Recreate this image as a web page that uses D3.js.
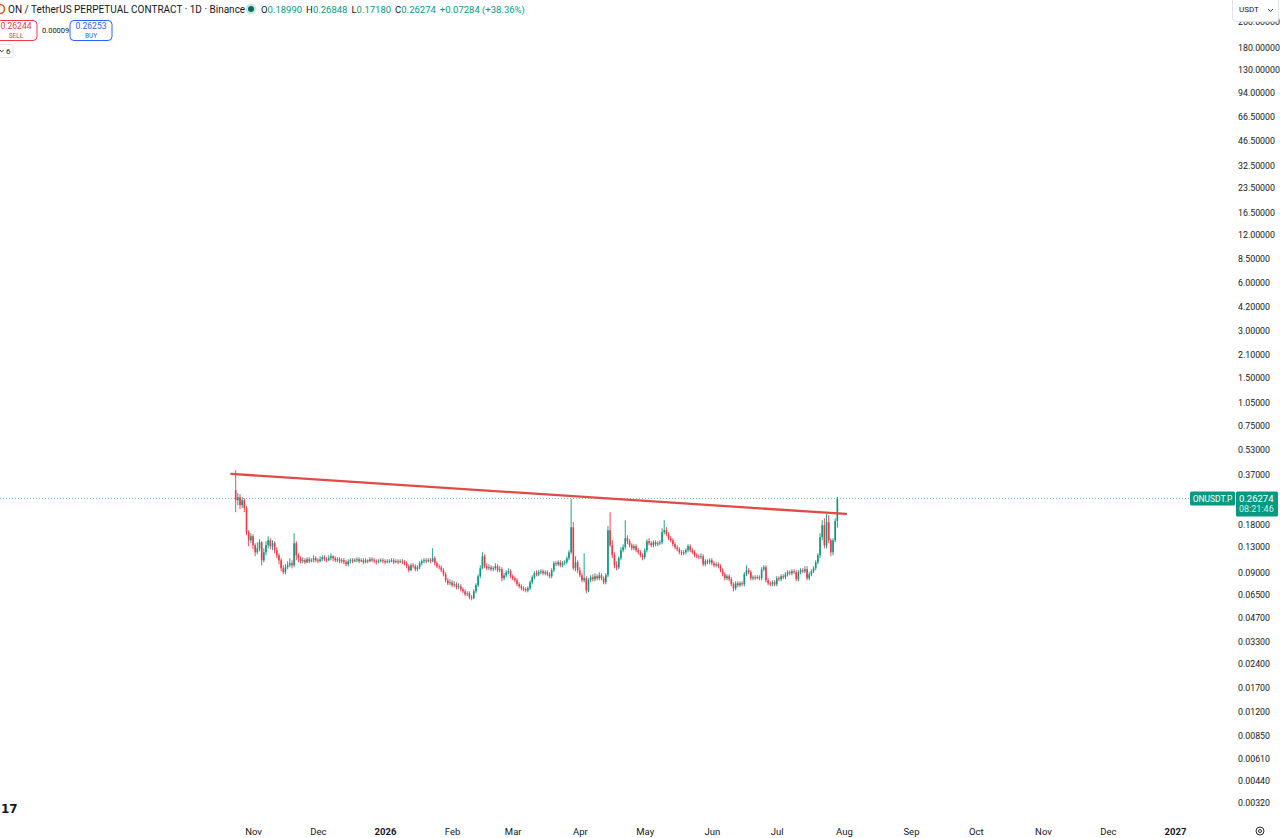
<!DOCTYPE html>
<html lang="en">
<head>
    <meta charset="UTF-8">
    <title>ONUSDT.P 1D</title>
    <script src="https://d3js.org/d3.v7.min.js"></script>
    <style>
        body {
            margin: 0;
            background: #ffffff;
            font-family: Roboto, "Noto Sans", sans-serif;
            overflow: hidden;
        }
        svg text { fill: #131722; }
    </style>
</head>
<body>
    <script>
        // daily candles, first one on 2025-10-24
        const firstDay = "2025-10-24";
        const firstOpen = 0.2964;

        const closes = [
            0.2563,0.2675,0.2384,0.2563,0.2283,0.1612,0.1435,0.1521,0.1335,0.1206,
            0.1278,0.1394,0.1074,0.1206,0.1335,0.1435,0.1316,0.1374,0.1242,0.1155,
            0.1074,0.0957,0.0903,0.0971,0.0999,0.1029,0.0999,0.1374,0.1155,0.1106,
            0.1059,0.1074,0.1044,0.1090,0.1059,0.1074,0.1106,0.1074,0.1059,0.1090,
            0.1122,0.1090,0.1074,0.1106,0.1138,0.1106,0.1074,0.1090,0.1059,0.1074,
            0.1044,0.1014,0.1059,0.1074,0.1059,0.1074,0.1090,0.1059,0.1074,0.1044,
            0.1074,0.1059,0.1090,0.1074,0.1059,0.1044,0.1059,0.1074,0.1059,0.1044,
            0.1059,0.1059,0.1074,0.1044,0.1059,0.1044,0.1059,0.1044,0.1029,0.0985,
            0.0929,0.0999,0.0985,0.0943,0.0971,0.1029,0.1059,0.1074,0.1059,0.1074,
            0.1059,0.1106,0.1029,0.0985,0.0971,0.0929,0.0877,0.0804,0.0770,0.0781,
            0.0748,0.0759,0.0727,0.0737,0.0706,0.0685,0.0656,0.0666,0.0629,0.0620,
            0.0685,0.0748,0.0852,0.0957,0.1138,0.0985,0.0957,0.0971,0.0943,0.0957,
            0.0985,0.0929,0.0943,0.0828,0.0864,0.0903,0.0916,0.0852,0.0828,0.0804,
            0.0759,0.0737,0.0716,0.0706,0.0695,0.0716,0.0781,0.0840,0.0890,0.0877,
            0.0903,0.0916,0.0890,0.0903,0.0877,0.0852,0.0929,0.1029,0.1014,0.1044,
            0.0999,0.1029,0.1044,0.1106,0.1206,0.1733,0.0957,0.1044,0.0929,0.0864,
            0.0804,0.0828,0.0695,0.0804,0.0840,0.0816,0.0852,0.0828,0.0864,0.0828,
            0.0781,0.0864,0.1659,0.1335,0.1155,0.0999,0.0971,0.1106,0.1242,0.1297,
            0.1478,0.1415,0.1335,0.1278,0.1316,0.1242,0.1206,0.1155,0.1122,0.1242,
            0.1415,0.1374,0.1335,0.1394,0.1355,0.1374,0.1394,0.1612,0.1659,0.1566,
            0.1478,0.1435,0.1355,0.1297,0.1260,0.1206,0.1189,0.1206,0.1242,0.1316,
            0.1242,0.1206,0.1155,0.1138,0.1122,0.1138,0.1014,0.1059,0.1044,0.1074,
            0.1029,0.0999,0.1014,0.0985,0.0929,0.0877,0.0828,0.0852,0.0816,0.0759,
            0.0716,0.0770,0.0748,0.0770,0.0759,0.0877,0.0929,0.0903,0.0828,0.0840,
            0.0828,0.0840,0.0828,0.0943,0.0971,0.0804,0.0770,0.0759,0.0781,0.0759,
            0.0828,0.0816,0.0852,0.0840,0.0877,0.0903,0.0890,0.0916,0.0903,0.0816,
            0.0903,0.0929,0.0916,0.0943,0.0828,0.0877,0.0916,0.0957,0.1044,0.1155,
            0.1499,0.1784,0.1335,0.1864,0.1435,0.1206,0.1435,0.1899,0.26274
        ];

        const highs = [
            0.3960,0.2837,0.2796,0.2675,0.2637,0.2350,0.1659,0.1589,0.1566,0.1374,
            0.1394,0.1456,0.1415,0.1278,0.1415,0.1521,0.1478,0.1435,0.1415,0.1297,
            0.1189,0.1106,0.0999,0.1014,0.1059,0.1106,0.1074,0.1589,0.1415,0.1189,
            0.1138,0.1122,0.1106,0.1122,0.1122,0.1106,0.1155,0.1138,0.1106,0.1138,
            0.1155,0.1155,0.1122,0.1155,0.1189,0.1155,0.1138,0.1122,0.1122,0.1106,
            0.1106,0.1074,0.1090,0.1106,0.1106,0.1106,0.1122,0.1122,0.1106,0.1106,
            0.1106,0.1090,0.1122,0.1122,0.1106,0.1090,0.1090,0.1106,0.1106,0.1090,
            0.1090,0.1090,0.1106,0.1106,0.1090,0.1090,0.1090,0.1090,0.1074,0.1059,
            0.1014,0.1029,0.1029,0.1014,0.0999,0.1059,0.1090,0.1106,0.1106,0.1106,
            0.1106,0.1278,0.1138,0.1059,0.1014,0.0999,0.0957,0.0903,0.0828,0.0816,
            0.0804,0.0792,0.0781,0.0770,0.0759,0.0727,0.0706,0.0685,0.0685,0.0647,
            0.0706,0.0770,0.0877,0.0999,0.1206,0.1172,0.1029,0.1014,0.0999,0.0985,
            0.1029,0.1014,0.0985,0.0971,0.0890,0.0929,0.0957,0.0943,0.0877,0.0852,
            0.0828,0.0781,0.0759,0.0737,0.0727,0.0737,0.0804,0.0864,0.0916,0.0929,
            0.0929,0.0943,0.0943,0.0929,0.0929,0.0903,0.0957,0.1059,0.1059,0.1074,
            0.1074,0.1059,0.1074,0.1138,0.1242,0.2599,0.1864,0.1138,0.1074,0.0971,
            0.0890,0.1189,0.0852,0.0828,0.0864,0.0877,0.0890,0.0877,0.0903,0.0890,
            0.0852,0.0890,0.1759,0.2154,0.1435,0.1206,0.1059,0.1138,0.1297,0.1355,
            0.1918,0.1543,0.1456,0.1374,0.1355,0.1355,0.1278,0.1242,0.1189,0.1278,
            0.1456,0.1478,0.1415,0.1435,0.1435,0.1415,0.1435,0.1708,0.1918,0.1733,
            0.1612,0.1521,0.1478,0.1394,0.1335,0.1297,0.1242,0.1242,0.1278,0.1355,
            0.1355,0.1278,0.1242,0.1189,0.1172,0.1189,0.1172,0.1090,0.1090,0.1106,
            0.1106,0.1059,0.1044,0.1044,0.1014,0.0957,0.0903,0.0877,0.0877,0.0840,
            0.0781,0.0792,0.0792,0.0792,0.0792,0.0903,0.0999,0.0957,0.0929,0.0864,
            0.0864,0.0864,0.0864,0.0971,0.0999,0.0999,0.0828,0.0792,0.0804,0.0804,
            0.0852,0.0852,0.0877,0.0877,0.0903,0.0929,0.0929,0.0943,0.0943,0.0929,
            0.0929,0.0957,0.0957,0.0985,0.0985,0.0903,0.0943,0.0985,0.1074,0.1189,
            0.1589,0.1918,0.1975,0.2093,0.2062,0.1478,0.1478,0.1975,0.26848
        ];

        const lows = [
            0.2154,0.2384,0.2250,0.2283,0.2154,0.1543,0.1316,0.1374,0.1260,0.1138,
            0.1172,0.1224,0.0999,0.1044,0.1155,0.1278,0.1260,0.1242,0.1189,0.1106,
            0.1014,0.0916,0.0877,0.0877,0.0943,0.0971,0.0957,0.0971,0.1074,0.1044,
            0.1029,0.1029,0.1014,0.1029,0.1029,0.1044,0.1044,0.1044,0.1029,0.1044,
            0.1059,0.1059,0.1044,0.1059,0.1074,0.1059,0.1044,0.1044,0.1029,0.1029,
            0.1014,0.0985,0.0985,0.1029,0.1029,0.1044,0.1044,0.1029,0.1044,0.1014,
            0.1029,0.1029,0.1044,0.1044,0.1029,0.1014,0.1029,0.1044,0.1029,0.1014,
            0.1029,0.1029,0.1044,0.1014,0.1029,0.1014,0.1029,0.1014,0.0999,0.0957,
            0.0903,0.0916,0.0957,0.0916,0.0916,0.0943,0.0999,0.1029,0.1029,0.1044,
            0.1029,0.1044,0.0999,0.0957,0.0943,0.0903,0.0852,0.0781,0.0748,0.0748,
            0.0727,0.0727,0.0706,0.0706,0.0685,0.0666,0.0638,0.0638,0.0611,0.0602,
            0.0611,0.0666,0.0727,0.0828,0.0943,0.0957,0.0929,0.0929,0.0916,0.0916,
            0.0929,0.0903,0.0903,0.0792,0.0804,0.0840,0.0877,0.0828,0.0804,0.0781,
            0.0737,0.0716,0.0695,0.0685,0.0676,0.0676,0.0695,0.0759,0.0816,0.0852,
            0.0852,0.0877,0.0864,0.0864,0.0852,0.0828,0.0828,0.0903,0.0985,0.0985,
            0.0971,0.0971,0.0999,0.1014,0.1074,0.1172,0.0929,0.0916,0.0890,0.0840,
            0.0781,0.0781,0.0666,0.0676,0.0781,0.0792,0.0792,0.0804,0.0804,0.0804,
            0.0759,0.0759,0.0840,0.1297,0.1106,0.0957,0.0929,0.0943,0.1074,0.1206,
            0.1260,0.1355,0.1297,0.1242,0.1242,0.1206,0.1172,0.1122,0.1074,0.1090,
            0.1206,0.1335,0.1297,0.1297,0.1316,0.1316,0.1335,0.1355,0.1566,0.1521,
            0.1435,0.1394,0.1316,0.1260,0.1224,0.1172,0.1155,0.1155,0.1172,0.1206,
            0.1206,0.1172,0.1122,0.1106,0.1090,0.1090,0.0985,0.0985,0.1014,0.1014,
            0.0999,0.0971,0.0971,0.0957,0.0903,0.0852,0.0804,0.0804,0.0792,0.0737,
            0.0685,0.0695,0.0727,0.0727,0.0737,0.0737,0.0852,0.0877,0.0804,0.0804,
            0.0804,0.0816,0.0804,0.0804,0.0916,0.0781,0.0748,0.0737,0.0737,0.0737,
            0.0737,0.0792,0.0792,0.0816,0.0816,0.0852,0.0864,0.0864,0.0877,0.0792,
            0.0792,0.0877,0.0890,0.0890,0.0804,0.0804,0.0852,0.0890,0.0929,0.1014,
            0.1106,0.1435,0.1278,0.1278,0.1374,0.1138,0.1155,0.1394,0.1718
        ];

        // trend line drawn on the chart (two anchor points)
        const trendDates = ["2025-10-22", "2026-08-02"];
        const trendPrices = [0.375, 0.210];

        // price scale labels (log scale)
        const priceTicks = [260, 180, 130, 94, 66.5, 46.5, 32.5, 23.5, 16.5, 12, 8.5, 6, 4.2, 3, 2.1, 1.5,
            1.05, 0.75, 0.53, 0.37, 0.18, 0.13, 0.09, 0.065, 0.047, 0.033, 0.024, 0.017, 0.012,
            0.0085, 0.0061, 0.0044, 0.0032];

        const lastPrice = 0.26274;
        const upColor = "#089981";
        const downColor = "#f23645";

        const width = 1280;
        const height = 838;
        const paneRight = 1232;
        const paneBottom = 820;

        const parse = d3.utcParse("%Y-%m-%d");
        const day0 = parse(firstDay);
        const candles = closes.map((c, i) => ({
            date: d3.utcDay.offset(day0, i),
            open: i === 0 ? firstOpen : closes[i - 1],
            high: highs[i],
            low: lows[i],
            close: c
        }));

        const x = d3.scaleUtc()
            .domain([parse("2025-11-01"), parse("2027-01-01")])
            .range([253, 1175]);

        const y = d3.scaleLog()
            .domain([260, 0.0032])
            .range([22, 803]);

        const svg = d3.select("body")
            .append("svg")
            .attr("width", width)
            .attr("height", height)
            .style("display", "block");

        svg.append("defs").append("clipPath").attr("id", "pane")
            .append("rect").attr("x", 0).attr("y", 0).attr("width", paneRight).attr("height", paneBottom);

        const pane = svg.append("g").attr("clip-path", "url(#pane)");

        // last price dotted line
        pane.append("line")
            .attr("x1", 0).attr("x2", paneRight)
            .attr("y1", y(lastPrice)).attr("y2", y(lastPrice))
            .attr("stroke", upColor)
            .attr("stroke-opacity", 0.6)
            .attr("stroke-dasharray", "1,2");

        // candles
        const bars = pane.append("g").selectAll("g")
            .data(candles)
            .join("g")
            .attr("fill", d => d.close >= d.open ? upColor : downColor)
            .attr("stroke", d => d.close >= d.open ? upColor : downColor);

        bars.append("line")
            .attr("x1", d => x(d.date)).attr("x2", d => x(d.date))
            .attr("y1", d => y(d.high)).attr("y2", d => y(d.low))
            .attr("stroke-width", 0.9);

        bars.append("rect")
            .attr("x", d => x(d.date) - 0.8)
            .attr("width", 1.6)
            .attr("y", d => Math.min(y(d.open), y(d.close)))
            .attr("height", d => Math.max(0.8, Math.abs(y(d.open) - y(d.close))))
            .attr("stroke", "none");

        // trend line
        pane.append("line")
            .attr("x1", x(parse(trendDates[0]))).attr("y1", y(trendPrices[0]))
            .attr("x2", x(parse(trendDates[1]))).attr("y2", y(trendPrices[1]))
            .attr("stroke", "#e04b48")
            .attr("stroke-width", 2.3)
            .attr("stroke-linecap", "round");

        // right price axis
        const yAxis = svg.append("g")
            .attr("transform", `translate(${paneRight + 3},0)`)
            .call(d3.axisRight(y).tickValues(priceTicks).tickFormat(d3.format(".5f")).tickSize(0).tickPadding(3));
        yAxis.select(".domain").remove();
        yAxis.selectAll("text")
            .attr("font-family", "Roboto, sans-serif")
            .attr("font-size", 8.8)
            .attr("fill", "#131722");

        // bottom time axis
        const monthTicks = d3.utcMonth.range(parse("2025-11-01"), parse("2027-01-02"));
        const xAxis = svg.append("g")
            .attr("transform", `translate(0,${paneBottom})`)
            .call(d3.axisBottom(x).tickValues(monthTicks)
                .tickFormat(d => d.getUTCMonth() === 0 ? d3.utcFormat("%Y")(d) : d3.utcFormat("%b")(d))
                .tickSize(0).tickPadding(8));
        xAxis.select(".domain").remove();
        xAxis.selectAll("text")
            .attr("font-family", "Roboto, sans-serif")
            .attr("font-size", 9.5)
            .attr("fill", "#131722")
            .attr("font-weight", d => d.getUTCMonth() === 0 ? 700 : 400);

        // USDT unit box over the top of the scale
        svg.append("rect")
            .attr("x", paneRight + 0.5).attr("y", -4).attr("width", 46).attr("height", 25.5).attr("rx", 3)
            .attr("fill", "#fff").attr("stroke", "#e0e3eb");
        svg.append("text").attr("x", paneRight + 7).attr("y", 12)
            .attr("font-size", 8).text("USDT");
        svg.append("path")
            .attr("d", `M${paneRight + 36},9 l2.5,2.5 l2.5,-2.5`)
            .attr("fill", "none").attr("stroke", "#131722").attr("stroke-width", 0.9);

        // last price tags
        const ly = y(lastPrice);
        svg.append("rect").attr("x", 1190).attr("y", ly - 7).attr("width", 45).attr("height", 14)
            .attr("rx", 1.5).attr("fill", upColor);
        svg.append("text").attr("x", 1212.5).attr("y", ly + 3.2)
            .attr("text-anchor", "middle").attr("font-size", 8.5).style("fill", "#fff")
            .text("ONUSDT.P");
        svg.append("rect").attr("x", paneRight + 4).attr("y", ly - 7).attr("width", 42).attr("height", 25)
            .attr("rx", 1.5).attr("fill", upColor);
        svg.append("text").attr("x", paneRight + 7).attr("y", ly + 3.3)
            .attr("font-size", 9.5).style("fill", "#fff").text("0.26274");
        svg.append("text").attr("x", paneRight + 7).attr("y", ly + 14)
            .attr("font-size", 9).style("fill", "#d5efe9").text("08:21:46");

        // header
        svg.append("circle").attr("cx", 0).attr("cy", 9).attr("r", 4.5)
            .attr("fill", "#fff").attr("stroke", "#e5532f").attr("stroke-width", 1.6);
        svg.append("text").attr("x", 8).attr("y", 13)
            .attr("font-size", 10)
            .text("ON / TetherUS PERPETUAL CONTRACT · 1D · Binance");
        svg.append("circle").attr("cx", 251).attr("cy", 9).attr("r", 5.5).attr("fill", "#cfe9e2");
        svg.append("circle").attr("cx", 251).attr("cy", 9).attr("r", 3).attr("fill", "#0b6e5c");

        const ohlc = svg.append("text").attr("x", 261).attr("y", 13).attr("font-size", 9.5);
        [["O", "0.18990"], ["H", "0.26848"], ["L", "0.17180"], ["C", "0.26274"]].forEach(([k, v], i) => {
            ohlc.append("tspan").attr("dx", i ? 4 : 0).style("fill", "#131722").text(k);
            ohlc.append("tspan").style("fill", upColor).text(v);
        });
        ohlc.append("tspan").attr("dx", 4).style("fill", upColor).text("+0.07284 (+38.36%)");

        // sell / buy buttons
        const btn = (bx, col, price, label) => {
            svg.append("rect").attr("x", bx).attr("y", 20.5).attr("width", 42).attr("height", 20).attr("rx", 4)
                .attr("fill", "#fff").attr("stroke", col);
            svg.append("text").attr("x", bx + 21).attr("y", 29).attr("text-anchor", "middle")
                .attr("font-size", 8.5).style("fill", col).text(price);
            svg.append("text").attr("x", bx + 21).attr("y", 37.5).attr("text-anchor", "middle")
                .attr("font-size", 6.5).style("fill", col).text(label);
        };
        btn(-5, "#f23645", "0.26244", "SELL");
        btn(70, "#2962ff", "0.26253", "BUY");
        svg.append("text").attr("x", 42).attr("y", 33).attr("font-size", 7.5).text("0.00009");

        // collapsed indicators badge
        svg.append("rect").attr("x", -3).attr("y", 44.5).attr("width", 16).attr("height", 13).attr("rx", 2)
            .attr("fill", "#fff").attr("stroke", "#e0e3eb");
        svg.append("path").attr("d", "M0,50 l1.8,1.8 l1.8,-1.8")
            .attr("fill", "none").attr("stroke", "#131722").attr("stroke-width", 0.9);
        svg.append("text").attr("x", 6).attr("y", 54).attr("font-size", 8).text("6");

        // logo and settings icon
        svg.append("text").attr("x", 1).attr("y", 813)
            .attr("font-family", "'DejaVu Sans', sans-serif").attr("font-weight", 900)
            .attr("font-size", 12).text("17");
        svg.append("circle").attr("cx", 1260).attr("cy", 831).attr("r", 4)
            .attr("fill", "none").attr("stroke", "#131722").attr("stroke-width", 0.9);
        svg.append("circle").attr("cx", 1260).attr("cy", 831).attr("r", 1.5)
            .attr("fill", "none").attr("stroke", "#131722").attr("stroke-width", 0.9);
    </script>
</body>
</html>
